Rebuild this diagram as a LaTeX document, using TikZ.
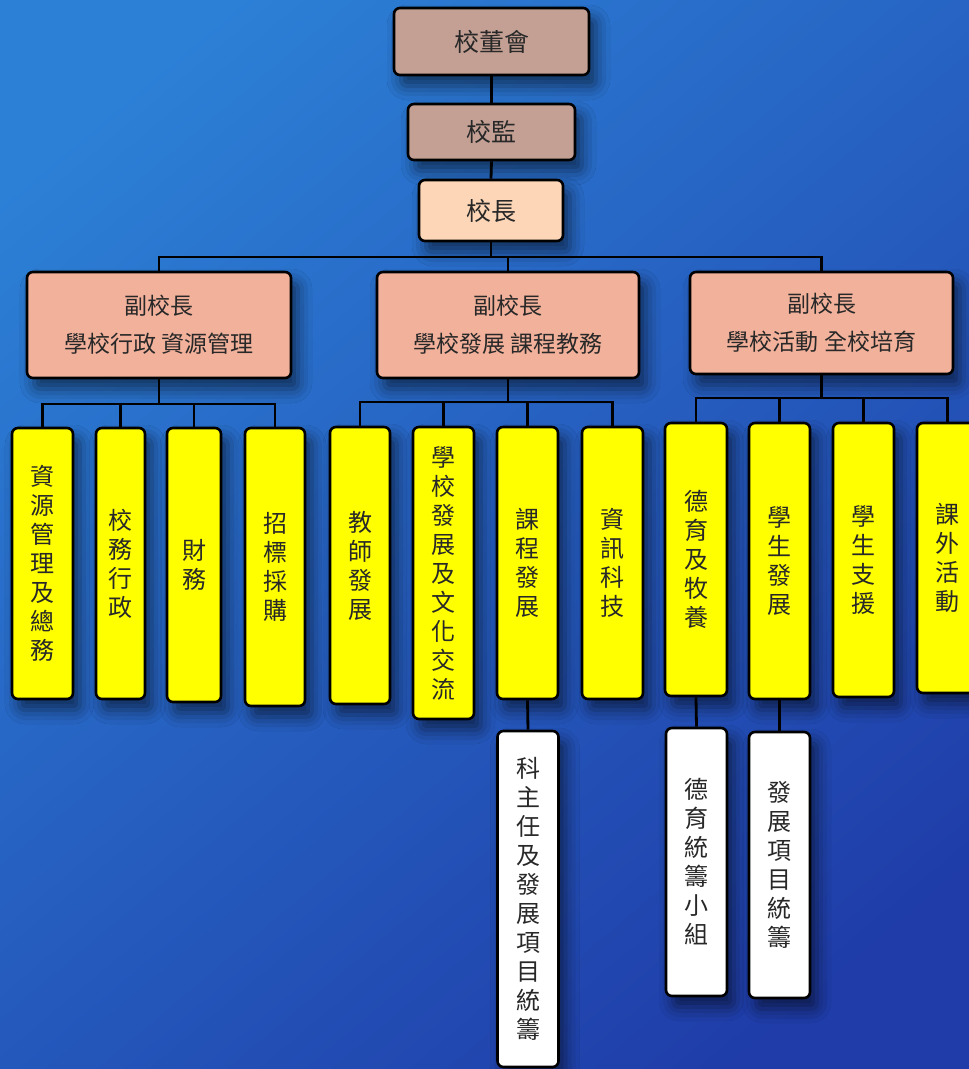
\documentclass[tikz,border=0pt]{standalone}
\usepackage{fontspec}
\setmainfont{Noto Sans CJK TC}
\usetikzlibrary{shadows.blur}
\definecolor{bgA}{RGB}{44,128,214}
\definecolor{bgB}{RGB}{31,60,168}
\definecolor{topbox}{RGB}{196,160,148}
\definecolor{princ}{RGB}{252,214,182}
\definecolor{vpbox}{RGB}{242,177,155}
\definecolor{ylw}{RGB}{255,255,0}
\definecolor{txt}{RGB}{40,40,40}
\tikzset{
  box/.style={draw=black, line width=2.6pt, rounded corners=6pt, inner sep=0pt,
    text=txt, align=center,
    blur shadow={shadow xshift=7pt, shadow yshift=-11pt, shadow blur radius=14pt, shadow opacity=55}},
  topb/.style={box, fill=topbox, font=\fontsize{25pt}{30pt}\selectfont},
  prb/.style={box, fill=princ, font=\fontsize{25pt}{30pt}\selectfont},
  vpb/.style={box, fill=vpbox, font=\fontsize{23pt}{38pt}\selectfont},
  yb/.style={box, fill=ylw, font=\fontsize{24pt}{29pt}\selectfont},
  wb/.style={box, fill=white, font=\fontsize{24pt}{29pt}\selectfont},
  link/.style={draw=black, line width=2.8pt},
}
\begin{document}
\begin{tikzpicture}[x=1pt,y=-1pt]
\useasboundingbox (0,0) rectangle (969,1069);
\shade[shading=axis, top color=bgA, bottom color=bgB, shading angle=40] (-60,-60) rectangle (1029,1129);

% top chain
\node[topb, minimum width=195pt, minimum height=67pt] (board) at (491.5,41.5) {校董會};
\node[topb, minimum width=167pt, minimum height=56pt] (sup) at (491.5,132) {校監};
\node[prb, minimum width=144pt, minimum height=61pt] (prin) at (491,210.5) {校長};

% vice principals
\node[vpb, minimum width=264pt, minimum height=106pt] (vp1) at (159,325) {副校長\\學校行政 資源管理};
\node[vpb, minimum width=262pt, minimum height=106pt] (vp2) at (508,325) {副校長\\學校發展 課程教務};
\node[vpb, minimum width=263pt, minimum height=102pt] (vp3) at (821.5,323) {副校長\\學校活動 全校培育};

% departments
\node[yb, minimum width=61pt, minimum height=271pt] (y1) at (42.5,563.5) {資\\源\\管\\理\\及\\總\\務};
\node[yb, minimum width=49pt, minimum height=271pt] (y2) at (120.5,563.5) {校\\務\\行\\政};
\node[yb, minimum width=54pt, minimum height=274pt] (y3) at (194,565) {財\\務};
\node[yb, minimum width=60pt, minimum height=278pt] (y4) at (275,567) {招\\標\\採\\購};
\node[yb, minimum width=60pt, minimum height=277pt] (y5) at (360,565.5) {教\\師\\發\\展};
\node[yb, minimum width=61pt, minimum height=292pt] (y6) at (443.5,573) {學\\校\\發\\展\\及\\文\\化\\交\\流};
\node[yb, minimum width=61pt, minimum height=272pt] (y7) at (527.5,563) {課\\程\\發\\展};
\node[yb, minimum width=61pt, minimum height=272pt] (y8) at (612.5,563) {資\\訊\\科\\技};
\node[yb, minimum width=62pt, minimum height=273pt] (y9) at (696,559.5) {德\\育\\及\\牧\\養};
\node[yb, minimum width=61pt, minimum height=276pt] (y10) at (779.5,561) {學\\生\\發\\展};
\node[yb, minimum width=61pt, minimum height=274pt] (y11) at (863.5,560) {學\\生\\支\\援};
\node[yb, minimum width=61pt, minimum height=270pt] (y12) at (947.5,558) {課\\外\\活\\動};

% sub units
\node[wb, minimum width=61pt, minimum height=336pt] (w1) at (528,899) {科\\主\\任\\及\\發\\展\\項\\目\\統\\籌};
\node[wb, minimum width=61pt, minimum height=268pt] (w2) at (696.5,862) {德\\育\\統\\籌\\小\\組};
\node[wb, minimum width=61pt, minimum height=266pt] (w3) at (779.5,865) {發\\展\\項\\目\\統\\籌};

% bus coordinates
\coordinate (b0) at (491,257);
\coordinate (b1) at (159,404);
\coordinate (b2) at (508,402);
\coordinate (b3) at (821.5,398);

% connectors
\draw[link] (board.south) -- (sup.north);
\draw[link] (sup.south) -- (prin.north);
\draw[link] (prin.south) -- (b0);
\draw[link] (vp1.north) |- (b0);
\draw[link] (vp3.north) |- (b0);
\draw[link] (vp2.north) -- (vp2.north |- b0);

\draw[link] (vp1.south) -- (b1);
\draw[link] (y1.north) |- (b1);
\draw[link] (y4.north) |- (b1);
\draw[link] (y2.north) -- (y2.north |- b1);
\draw[link] (y3.north) -- (y3.north |- b1);

\draw[link] (vp2.south) -- (b2);
\draw[link] (y5.north) |- (b2);
\draw[link] (y8.north) |- (b2);
\draw[link] (y6.north) -- (y6.north |- b2);
\draw[link] (y7.north) -- (y7.north |- b2);

\draw[link] (vp3.south) -- (b3);
\draw[link] (y9.north) |- (b3);
\draw[link] (y12.north) |- (b3);
\draw[link] (y10.north) -- (y10.north |- b3);
\draw[link] (y11.north) -- (y11.north |- b3);

\draw[link] (y7.south) -- (w1.north);
\draw[link] (y9.south) -- (w2.north);
\draw[link] (y10.south) -- (w3.north);
\end{tikzpicture}
\end{document}
